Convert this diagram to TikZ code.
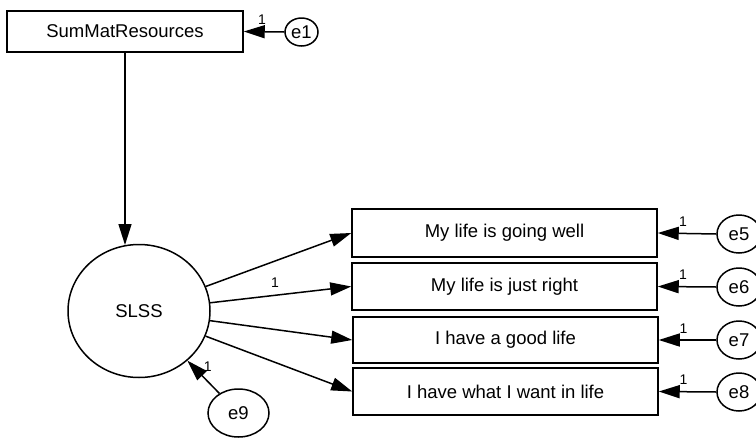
\documentclass[tikz,border=0pt]{standalone}
\usepackage{fontspec}
\setmainfont{Liberation Sans}
\usetikzlibrary{shapes.geometric,arrows.meta}
\begin{document}
\begin{tikzpicture}[x=1pt,y=-1pt,
  every node/.style={inner sep=0pt, font=\fontsize{18.5}{21}\selectfont},
  obsbox/.style={draw, line width=1.5pt, rectangle},
  latent/.style={draw, line width=1.5pt, ellipse},
  errv/.style={draw, line width=1.5pt, ellipse},
  path/.style={draw, line width=1.5pt, -{Triangle[length=21pt,width=13pt]}},
  lab/.style={font=\fontsize{14}{16}\selectfont, inner sep=0pt}]
\useasboundingbox (0,0) rectangle (756,437);
\fill[white] (0,0) rectangle (756,437);
% nodes
\node[obsbox, minimum width=236pt, minimum height=41pt] (smr) at (125,31.5) {SumMatResources};
\node[errv, minimum width=33pt, minimum height=28pt] (e1) at (301.5,32) {e1};
\node[latent, minimum width=142pt, minimum height=133pt] (slss) at (139,311) {SLSS};
\node[obsbox, minimum width=305pt, minimum height=48pt] (b1) at (504.5,233) {My life is going well};
\node[obsbox, minimum width=305pt, minimum height=47pt] (b2) at (504.5,286.5) {My life is just right};
\node[obsbox, minimum width=305pt, minimum height=46pt] (b3) at (505.5,340) {I have a good life};
\node[obsbox, minimum width=305pt, minimum height=47pt] (b4) at (505.5,391.5) {I have what I want in life};
\node[errv, minimum width=44pt, minimum height=38pt] (e5) at (739,234) {e5};
\node[errv, minimum width=44pt, minimum height=38pt] (e6) at (739,287) {e6};
\node[errv, minimum width=44pt, minimum height=38pt] (e7) at (739,340) {e7};
\node[errv, minimum width=44pt, minimum height=38pt] (e8) at (739,392) {e8};
\node[errv, minimum width=61pt, minimum height=48pt] (e9) at (238.5,413) {e9};
\coordinate (slsstop) at (125,245);
% connectors
\draw[path] (e1.west) -- node[lab, pos=0.55, above=6pt] (l1) {1} (smr.east);
\draw[path] (smr.south) -- (slsstop);
\draw[path] (slss) -- (b1.west);
\draw[path] (slss) -- node[lab, pos=0.46, above=7pt] (l2) {1} (b2.west);
\draw[path] (slss) -- (b3.west);
\draw[path] (slss) -- (b4.west);
\draw[path] (e5.west) -- node[lab, pos=0.57, above=6pt] (l5) {1} (b1.east);
\draw[path] (e6.west) -- node[lab, pos=0.57, above=6pt] (l6) {1} (b2.east);
\draw[path] (e7.west) -- node[lab, pos=0.57, above=6pt] (l7) {1} (b3.east);
\draw[path] (e8.west) -- node[lab, pos=0.57, above=6pt] (l8) {1} (b4.east);
\draw[path] (e9) -- node[lab, pos=0.82, right=10pt] (l9) {1} (slss);
\end{tikzpicture}
\end{document}
